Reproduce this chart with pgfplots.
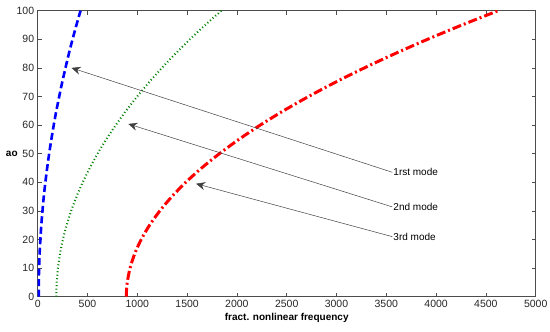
\documentclass[border=0pt]{standalone}
\usepackage{pgfplots}
\pgfplotsset{compat=1.18}
\usepackage{fontspec}
\setmainfont{Liberation Sans}
\usetikzlibrary{calc,arrows.meta}
\pgfplotstableread{
a f
0 10
5 11
10 14
15 19
20 27
25 36
30 48
35 61
40 77
45 95
50 115
55 137
60 161
65 187
70 216
75 246
80 279
85 313
90 350
95 389
100 430
}\first
\pgfplotstableread{
a f
0 187
5 191
10 204
15 224
20 253
25 291
30 336
35 390
40 452
45 523
50 601
55 688
60 784
65 887
70 999
75 1119
80 1247
85 1384
90 1529
95 1682
100 1844
}\second
\pgfplotstableread{
a f
0 890
2.5 892
5 899
10 927
15 974
20 1039
25 1123
30 1226
35 1347
40 1487
45 1646
50 1824
55 2020
60 2234
65 2468
70 2720
75 2990
80 3280
85 3588
90 3915
95 4260
100 4624
}\third
\begin{document}
\begin{tikzpicture}
\begin{axis}[
  scale only axis, width=498pt, height=286pt,
  xmin=0, xmax=5000, ymin=0, ymax=100,
  xtick={0,500,...,5000}, ytick={0,10,...,100},
  tick align=inside, major tick length=4pt,
  tick style={color=black!70, line width=0.5pt},
  axis line style={color=black!70, line width=0.6pt},
  every tick label/.style={font=\fontsize{10.5}{12}\selectfont, color=black!85},
  /pgf/number format/assume math mode=true,
  /pgf/number format/1000 sep={},
  scaled x ticks=false,
  xlabel={\bfseries fract. nonlinear frequency},
  ylabel={\bfseries ao},
  label style={font=\fontsize{10}{12}\selectfont},
  xlabel style={at={(axis description cs:0.5,-0.075)}, anchor=center},
  ylabel style={rotate=-90, at={(axis description cs:-0.052,0.5)}, anchor=center},
  clip=true,
]
\addplot[blue, line width=2.6pt, dash pattern=on 7pt off 3.5pt, smooth] table[x=f, y=a] {\first};
\addplot[black!50!green, line width=2pt, dash pattern=on 1pt off 2.5pt, smooth] table[x=f, y=a] {\second};
\addplot[red, line width=3pt, dash pattern=on 9pt off 3pt on 2pt off 3pt, smooth] table[x=f, y=a] {\third};
\draw[black!75, line width=0.5pt, -{Stealth[length=9pt,width=8pt,inset=3pt]}] (axis cs:3560,43.5) -- (axis cs:340,80);
\draw[black!75, line width=0.5pt, -{Stealth[length=9pt,width=8pt,inset=3pt]}] (axis cs:3560,31.4) -- (axis cs:910,60.4);
\draw[black!75, line width=0.5pt, -{Stealth[length=9pt,width=8pt,inset=3pt]}] (axis cs:3560,21) -- (axis cs:1590,39.5);
\node[anchor=west, inner sep=1pt, font=\fontsize{10}{12}\selectfont] at (axis cs:3560,43.5) {1rst mode};
\node[anchor=west, inner sep=1pt, font=\fontsize{10}{12}\selectfont] at (axis cs:3560,31.4) {2nd mode};
\node[anchor=west, inner sep=1pt, font=\fontsize{10}{12}\selectfont] at (axis cs:3560,21) {3rd mode};
\end{axis}
\pgfresetboundingbox
\path ($(current axis.south west)+(-37.7pt,-35pt)$) rectangle ($(current axis.north east)+(14.3pt,10.7pt)$);
\end{tikzpicture}
\end{document}
